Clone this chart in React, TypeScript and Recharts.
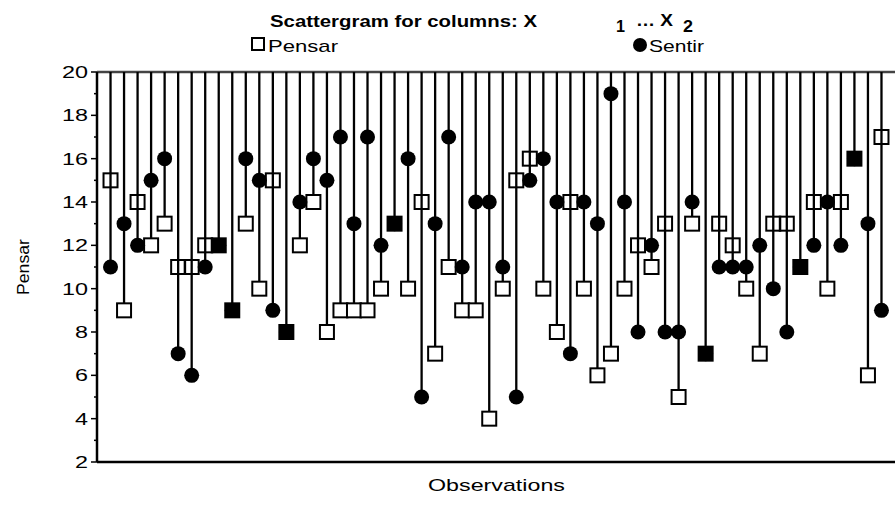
import React from "react";
import { ScatterChart, Scatter, XAxis, YAxis, ReferenceLine } from "recharts";

const pensar = [
  15, 9, 14, 12, 13, 11, 11, 12, 12, 9, 13, 10, 15, 8, 12, 14, 8, 9, 9, 9,
  10, 13, 10, 14, 7, 11, 9, 9, 4, 10, 15, 16, 10, 8, 14, 10, 6, 7, 10, 12,
  11, 13, 5, 13, 7, 13, 12, 10, 7, 13, 13, 11, 14, 10, 14, 16, 6, 17,
];
const sentir = [
  11, 13, 12, 15, 16, 7, 6, 11, 12, 9, 16, 15, 9, 8, 14, 16, 15, 17, 13, 17,
  12, 13, 16, 5, 13, 17, 11, 14, 14, 11, 5, 15, 16, 14, 7, 14, 13, 19, 14, 8,
  12, 8, 8, 14, 7, 11, 11, 11, 12, 10, 8, 11, 12, 14, 12, 16, 13, 9,
];
const yTicks = [2, 3, 4, 5, 6, 7, 8, 9, 10, 11, 12, 13, 14, 15, 16, 17, 18, 19, 20];
const yTop = 20;

const FONT = "'Liberation Sans', Arial, sans-serif";
const FS = 17;

const pensarData = pensar.map((v, i) => ({ obs: i + 1, value: v, other: sentir[i] }));
const sentirData = sentir.map((v, i) => ({ obs: i + 1, value: v, other: pensar[i] }));

const SquareShape = (props: any) => {
  const { cx, cy, payload } = props;
  const s = 14;
  const same = payload.value === payload.other;
  const lowest = payload.value < payload.other;
  return (
    <rect
      x={cx - s / 2}
      y={cy - s / 2}
      width={s}
      height={s}
      fill={same ? "#000" : lowest ? "#fff" : "none"}
      stroke="#000"
      strokeWidth={2}
    />
  );
};

const CircleShape = (props: any) => {
  const { cx, cy } = props;
  return <circle cx={cx} cy={cy} r={7.5} fill="#000" />;
};

// the original text is stretched horizontally, so widths are fixed with textLength
const YTick = (props: any) => {
  const { x, y, payload } = props;
  const major = payload.value % 2 === 0;
  const w = String(payload.value).length * 13;
  return (
    <g>
      <line x1={major ? x + 4 : x + 7} x2={x + 10} y1={y} y2={y} stroke="#000" strokeWidth={1.5} />
      {major && (
        <text
          x={x + 1 - w}
          y={y}
          dy={6}
          textLength={w}
          lengthAdjust="spacingAndGlyphs"
          fontSize={FS}
          fontFamily={FONT}
          fill="#000"
        >
          {payload.value}
        </text>
      )}
    </g>
  );
};

const YLabel = (props: any) => {
  const { viewBox } = props;
  const cx = 23;
  const cy = viewBox.y + viewBox.height / 2;
  return (
    <text
      x={cx - 28}
      y={cy}
      transform={`rotate(-90 ${cx} ${cy})`}
      dy={6}
      textLength={56}
      lengthAdjust="spacingAndGlyphs"
      fontSize={FS}
      fontFamily={FONT}
      fill="#000"
    >
      Pensar
    </text>
  );
};

const XLabel = (props: any) => {
  const { viewBox } = props;
  const cx = viewBox.x + viewBox.width / 2;
  return (
    <text
      x={cx - 68}
      y={491}
      textLength={137}
      lengthAdjust="spacingAndGlyphs"
      fontSize={FS}
      fontFamily={FONT}
      fill="#000"
    >
      Observations
    </text>
  );
};

const stretched = (x: number, y: number, w: number, s: string, bold = false, size = FS) => (
  <text
    x={x}
    y={y}
    textLength={w}
    lengthAdjust="spacingAndGlyphs"
    fontSize={size}
    fontWeight={bold ? "bold" : "normal"}
    fontFamily={FONT}
    fill="#000"
  >
    {s}
  </text>
);

export default function App() {
  return (
    <div style={{ position: "absolute", left: 0, top: 0, width: 895, height: 519, background: "#fff" }}>
      <div style={{ position: "absolute", left: 0, top: 0 }}>
        <ScatterChart width={895} height={519} margin={{ top: 72, right: 0, bottom: 0, left: 0 }}>
          <XAxis
            type="number"
            dataKey="obs"
            domain={[0, 59]}
            tick={false}
            tickLine={false}
            height={57}
            axisLine={{ stroke: "#000", strokeWidth: 2.5 }}
            label={{ content: XLabel }}
          />
          <YAxis
            type="number"
            dataKey="value"
            domain={[2, 20]}
            ticks={yTicks}
            interval={0}
            width={97}
            tickSize={0}
            tickMargin={0}
            tick={(p: any) => <YTick {...p} x={87} />}
            tickLine={false}
            axisLine={{ stroke: "#000", strokeWidth: 2.5 }}
            label={{ content: YLabel }}
          />
          <ReferenceLine y={yTop} stroke="#444" strokeWidth={2.5} />
          {pensar.map((p, i) => (
            <ReferenceLine
              key={`drop-${i}`}
              segment={[
                { x: i + 1, y: yTop },
                { x: i + 1, y: Math.min(p, sentir[i]) },
              ]}
              stroke="#000"
              strokeWidth={2.3}
            />
          ))}
          <Scatter name="Pensar" data={pensarData} shape={SquareShape} isAnimationActive={false} />
          <Scatter name="Sentir" data={sentirData} shape={CircleShape} isAnimationActive={false} />
        </ScatterChart>
      </div>

      {/* title and legend */}
      <svg width={895} height={60} style={{ position: "absolute", left: 0, top: 0 }}>
        {stretched(270, 27, 267, "Scattergram for columns: X", true)}
        {stretched(616, 32, 9, "1", true, 16)}
        {stretched(636, 26, 37, "… X", true)}
        {stretched(683, 32, 10, "2", true, 16)}
        <rect x={252} y={38} width={12} height={12} fill="none" stroke="#000" strokeWidth={2} />
        {stretched(268, 52, 70, "Pensar")}
        <circle cx={640} cy={45} r={7} fill="#000" />
        {stretched(649, 52, 55, "Sentir")}
      </svg>
    </div>
  );
}
